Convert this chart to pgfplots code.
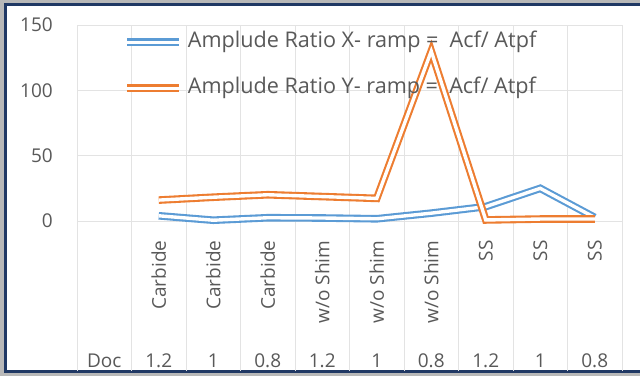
\documentclass[border=0pt]{standalone}
\usepackage{pgfplots}
\pgfplotsset{compat=1.18}
\usepackage{fontspec}
\setmainfont{Open Sans}
\definecolor{xblue}{HTML}{5B9BD5}
\definecolor{xorange}{HTML}{ED7D31}
\definecolor{txt}{HTML}{595959}
\definecolor{frame}{HTML}{203864}
\definecolor{gridc}{HTML}{E3E3E3}
\begin{document}
\begin{tikzpicture}
\useasboundingbox (0bp,0bp) rectangle (640bp,-376bp);
\fill[black!28] (0bp,0bp) rectangle (640bp,-376bp);
\filldraw[fill=white, draw=frame, line width=3bp] (5.5bp,-4bp) rectangle (660bp,-371.5bp);
\begin{axis}[
  at={(77bp,-221bp)}, anchor=south west,
  scale only axis, width=545bp, height=196bp,
  xmin=-0.5, xmax=9.5, ymin=0, ymax=150,
  ytick={0,50,100,150},
  xtick={0,...,9},
  xticklabels={Doc,1.2,1,0.8,1.2,1,0.8,1.2,1,0.8},
  minor xtick={-0.5,0.5,...,9.5},
  extra x ticks={1,...,9},
  extra x tick labels={Carbide,Carbide,Carbide,w/o Shim,w/o Shim,w/o Shim,SS,SS,SS},
  extra x tick style={grid=none, xticklabel style={yshift=130bp, rotate=90, anchor=east}},
  ymajorgrids, xminorgrids,
  major grid style={draw=gridc, line width=0.8bp},
  minor grid style={draw=gridc, line width=0.8bp},
  axis line style={draw=none},
  major tick length=0pt,
  minor tick length=150bp,
  tick align=outside,
  tick pos=left,
  minor tick style={draw=gridc, line width=0.8bp},
  tick label style={font=\fontsize{19bp}{23bp}\selectfont, text=txt},
  xticklabel style={anchor=base, yshift=-146bp},
  yticklabel style={anchor=east, inner sep=0pt, xshift=-24bp},
  /pgf/number format/assume math mode=true,
  clip=false,
  legend cell align=left,
  legend image code/.code={\draw[#1] (0bp,0bp) -- (52bp,0bp);},
  legend style={at={(rel axis cs:0.085,0.968)}, anchor=north west, draw=none, fill=none,
    inner sep=0pt, outer sep=0pt, row sep=24bp,
    font=\fontsize{21.6bp}{26bp}\selectfont, text=txt,
    nodes={inner sep=0pt, text height=16bp, text depth=6bp},
    /tikz/every odd column/.style={column sep=5bp}},
]
\addplot[xblue, line width=2.1bp, double=white, double distance=3.4bp]
  coordinates {(1,4) (2,0.6) (3,2.5) (4,2.3) (5,1.7) (6,6) (7,11) (8,25) (9,2.7)};
\addlegendentry{Amplude Ratio X- ramp = ~Acf/ Atpf}
\addplot[xorange, line width=2.1bp, double=white, double distance=3.4bp]
  coordinates {(1,16) (2,18.2) (3,20.1) (4,18.7) (5,17.3) (6,130) (7,0.8) (8,1.5) (9,1.5)};
\addlegendentry{Amplude Ratio Y- ramp = ~Acf/ Atpf}
\end{axis}
\end{tikzpicture}
\end{document}
